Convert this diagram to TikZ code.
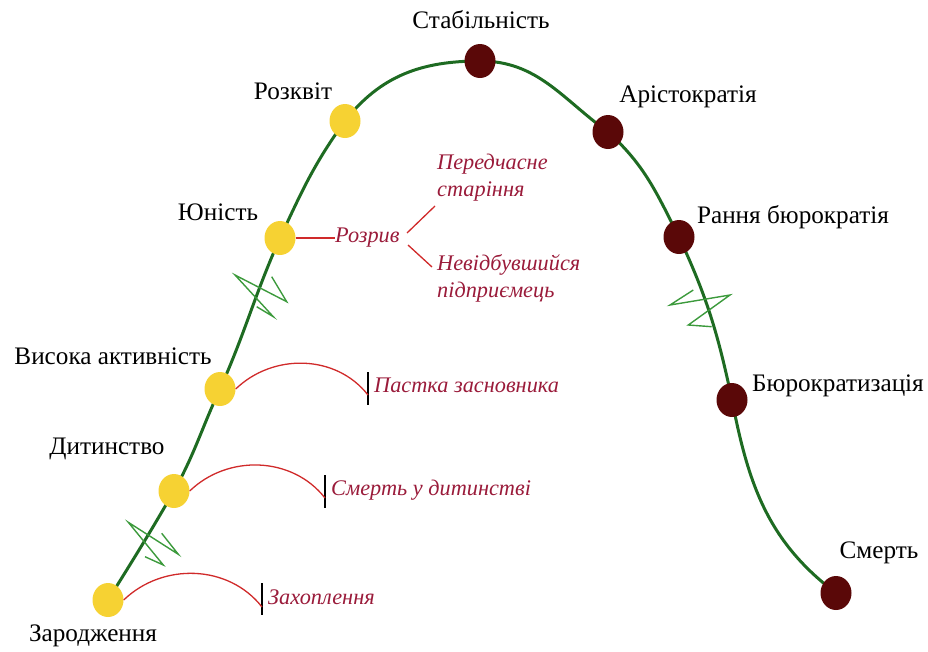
\documentclass[tikz,border=0pt]{standalone}
\usepackage{fontspec}
\setmainfont{LiberationSerif}[
  Extension=.ttf,
  UprightFont=*-Regular,
  ItalicFont=*-Italic,
  BoldFont=*-Bold,
  BoldItalicFont=*-BoldItalic]
\usetikzlibrary{shapes.geometric}
\definecolor{curvegreen}{HTML}{1E6B22}
\definecolor{ziggreen}{HTML}{3C9A3C}
\definecolor{dotyellow}{HTML}{F6D233}
\definecolor{dotdark}{HTML}{5A0808}
\definecolor{arcred}{HTML}{D02A2A}
\definecolor{notered}{HTML}{9A1B3A}
\tikzset{
  stagedot/.style={ellipse, inner sep=0pt, minimum width=31pt, minimum height=34pt, draw=none},
  risedot/.style={stagedot, fill=dotyellow},
  falldot/.style={stagedot, fill=dotdark},
  stagelabel/.style={inner sep=0pt, font=\fontsize{25.2}{29}\selectfont},
  trap/.style={inner sep=0pt, anchor=west, text=notered, align=left,
    font=\fontsize{22.3}{27}\selectfont\itshape},
  trapline/.style={draw=arcred, line width=1.3pt},
  trapbar/.style={draw=black, line width=1.3pt},
  lifecurve/.style={draw=curvegreen, line width=3pt},
  breakmark/.style={draw=ziggreen, line width=1.4pt, line join=miter},
}
\begin{document}
\begin{tikzpicture}[x=1pt, y=-1pt]
\useasboundingbox (0,0) rectangle (928,651);

% stage positions along the life curve
\coordinate (p1) at (108,600);
\coordinate (p2) at (174,491);
\coordinate (p3) at (220,389);
\coordinate (p4) at (280,238);
\coordinate (p5) at (345,121);
\coordinate (p6) at (480,61);
\coordinate (p7) at (608,132);
\coordinate (p8) at (679,237);
\coordinate (p9) at (732,400);
\coordinate (p10) at (836,593);

% the life curve
\draw[lifecurve] (p1) to[out=58,in=240] (p2) to[out=61,in=245] (p3)
  to[out=66,in=246] (p4) to[out=65,in=234] (p5) to[out=52,in=180] (p6)
  to[out=0,in=144] (p7) to[out=-42,in=117] (p8) to[out=-65,in=102] (p9)
  to[out=-79,in=143] (p10);

% break marks across the curve
\draw[breakmark] (161.7,533.3) -- (178.3,554.3) -- (128.3,522.3)
  -- (163.3,565) -- (145,556.7);
\draw[breakmark] (271.7,276.7) -- (286.7,301.7) -- (235,275)
  -- (273.3,316.7) -- (256.7,306.7);
\draw[breakmark] (693.3,290) -- (670,305) -- (730,295)
  -- (688.3,325) -- (711.7,326.7);

% stage dots
\node[risedot] (n1) at (p1) {};
\node[risedot] (n2) at (p2) {};
\node[risedot] (n3) at (p3) {};
\node[risedot] (n4) at (p4) {};
\node[risedot] (n5) at (p5) {};
\node[falldot] (n6) at (p6) {};
\node[falldot] (n7) at (p7) {};
\node[falldot] (n8) at (p8) {};
\node[falldot] (n9) at (p9) {};
\node[falldot] (n10) at (p10) {};

% stage names
\node[stagelabel] (l1) at (93,636) {Зародження};
\node[stagelabel] (l2) at (107,449) {Дитинство};
\node[stagelabel] (l3) at (113,356) {Висока активність};
\node[stagelabel] (l4) at (218,212) {Юність};
\node[stagelabel] (l5) at (293,91) {Розквіт};
\node[stagelabel] (l6) at (481,20) {Стабільність};
\node[stagelabel] (l7) at (688,97) {Арістократія};
\node[stagelabel] (l8) at (793,217) {Рання бюрократія};
\node[stagelabel] (l9) at (838,386) {Бюрократизація};
\node[stagelabel] (l10) at (879,553) {Смерть};

% traps of the growing stages
\coordinate (b1t) at (262,583); \coordinate (b1b) at (262,615);
\coordinate (b1e) at (262,607);
\draw[trapbar] (b1t) -- (b1b);
\node[trap] (t1) at (268,597) {Захоплення};
\draw[trapline] (n1.east) to[out=44, in=128] (b1e);

\coordinate (b2t) at (325,475); \coordinate (b2b) at (325,508);
\coordinate (b2e) at (325,498);
\draw[trapbar] (b2t) -- (b2b);
\node[trap] (t2) at (331,490) {Смерть у дитинстві};
\draw[trapline] (n2.east) to[out=44, in=128] (b2e);

\coordinate (b3t) at (368,372); \coordinate (b3b) at (368,405);
\coordinate (b3e) at (368,395);
\draw[trapbar] (b3t) -- (b3b);
\node[trap] (t3) at (374,385) {Пастка засновника};
\draw[trapline] (n3.east) to[out=44, in=128] (b3e);

% split after youth
\node[trap] (t4) at (335,238) {Розрив};
\draw[trapline] (n4.east) -- (t4.west);
\node[trap] (t5) at (437,178) {Передчасне\\старіння};
\node[trap] (t6) at (437,278) {Невідбувшийся\\підприємець};
\coordinate (s1) at (407,233); \coordinate (s2) at (435,206);
\coordinate (s3) at (408,245); \coordinate (s4) at (432,267);
\draw[trapline] (s1) -- (s2);
\draw[trapline] (s3) -- (s4);
\end{tikzpicture}
\end{document}
